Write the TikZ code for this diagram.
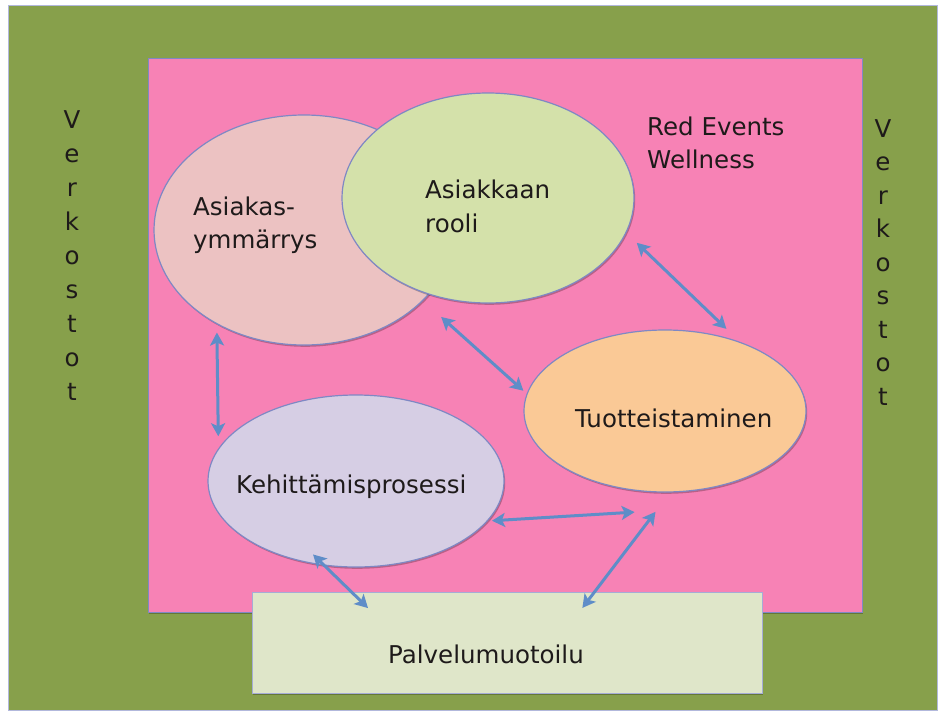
\documentclass[tikz,border=0pt]{standalone}
\usepackage{fontspec}
\setmainfont{DejaVu Sans}
\usetikzlibrary{arrows.meta,shapes.geometric,shadows}

\definecolor{verkko}{HTML}{87A04B}
\definecolor{redev}{HTML}{F782B5}
\definecolor{ymmfill}{HTML}{ECC2C2}
\definecolor{roolifill}{HTML}{D4E1AA}
\definecolor{tuotfill}{HTML}{FAC996}
\definecolor{kehfill}{HTML}{D6CEE4}
\definecolor{palfill}{HTML}{DFE6C9}
\definecolor{linkblue}{HTML}{5F8DC8}
\definecolor{rimblue}{HTML}{7F88C4}
\definecolor{txtdark}{HTML}{1E1A1A}

\tikzset{
  softshadow/.style={drop shadow={shadow xshift=1.2pt, shadow yshift=-1.8pt, fill=black, opacity=.25}},
  bubble/.style={ellipse, draw=rimblue, line width=1.2pt, inner sep=0pt, outer sep=0pt, softshadow},
  lbl/.style={anchor=base west, inner sep=0pt, text=txtdark, font=\fontsize{24.5}{30}\selectfont},
  link/.style={<->, draw=linkblue, line width=3pt},
}

\begin{document}
\begin{tikzpicture}[x=1pt, y=-1pt, >={Stealth[length=13pt,width=14pt,inset=3pt]}]

\useasboundingbox (0,0) rectangle (940,713);
\fill[white] (0,0) rectangle (940,713);

% Verkostot + Red Events Wellness
\fill[verkko, draw=rimblue!60, line width=.6pt] (8,5) rectangle (937,710);
\path[fill=redev, draw=rimblue, line width=1pt, softshadow] (148,58) rectangle (862,612);

\node[bubble, fill=ymmfill, minimum width=300pt, minimum height=230pt] (ymm) at (304,230) {};
\node[bubble, fill=roolifill, minimum width=292pt, minimum height=210pt] (rooli) at (488,198) {};
\node[bubble, fill=tuotfill, minimum width=282pt, minimum height=162pt] (tuot) at (665,411) {};
\node[bubble, fill=kehfill, minimum width=296pt, minimum height=172pt] (keh) at (356,481) {};
\node[rectangle, fill=palfill, draw=rimblue!70, line width=1pt, softshadow, inner sep=0pt, outer sep=0pt,
      minimum width=510pt, minimum height=101pt] (pal) at (507,642.5) {};

\node[lbl] (ymmT1) at (193,215) {Asiakas-};
\node[lbl] (ymmT2) at (193,248) {ymmärrys};
\node[lbl] (rooliT1) at (425,198) {Asiakkaan};
\node[lbl] (rooliT2) at (425,232) {rooli};
\node[lbl] (redT1) at (647,135) {Red Events};
\node[lbl] (redT2) at (647,168) {Wellness};
\node[lbl] (tuotT) at (575,427) {Tuotteistaminen};
\node[lbl] (kehT) at (236,493) {Kehittämisprosessi};
\node[lbl] (palT) at (388,663) {Palvelumuotoilu};

\foreach \ch [count=\i from 0] in {V,e,r,k,o,s,t,o,t} {
  \node[lbl, anchor=base] (vasen\i) at (72,128+34*\i) {\ch};
  \node[lbl, anchor=base] (oikea\i) at (883,137+33.5*\i) {\ch};
}

\draw[link, shorten <=9pt, shorten >=13pt] (ymm.227.6) -- (keh.167.3);
\draw[link, shorten <=49pt, shorten >=5pt] (rooli.226.4) -- (tuot.173.6);
\draw[link, shorten <=15pt, shorten >=20pt] (rooli.-14.6) -- (tuot.42.2);
\draw[link, shorten <=5pt] (keh.-17.2) -- ([yshift=-22pt]tuot.-111.4);
\draw[link, shorten <=25pt, shorten >=-20pt] (tuot.-86) -- (pal.30.6);
\draw[link, shorten <=-15pt, shorten >=-23pt] (keh.249.4) -- (pal.162.6);

\end{tikzpicture}
\end{document}
